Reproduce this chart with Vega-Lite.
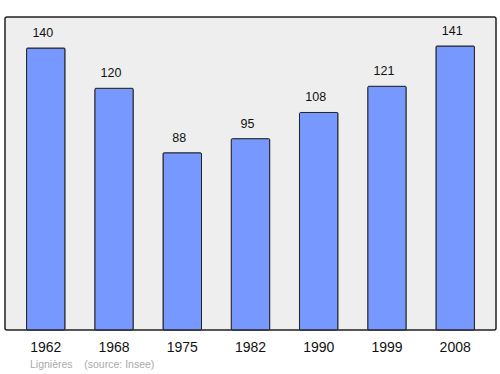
{
  "$schema": "https://vega.github.io/schema/vega-lite/v6.json",
  "width": 491,
  "height": 313,
  "autosize": {"type": "none"},
  "padding": {"left": 5, "top": 17, "right": 4, "bottom": 44},
  "background": "white",
  "config": {
    "font": "Liberation Sans",
    "view": {"fill": "#eeeeee", "stroke": "#222222", "strokeWidth": 1.5, "cornerRadius": 2}
  },
  "title": {
    "text": "Lignières\u00a0\u00a0\u00a0 (source: Insee)",
    "orient": "bottom",
    "anchor": "start",
    "dx": 25,
    "offset": 6,
    "baseline": "top",
    "fontSize": 10.5,
    "fontWeight": "normal",
    "color": "#aaaaaa",
    "font": "Liberation Sans"
  },
  "data": {
    "values": [
      {"year": "1962", "pop": 140},
      {"year": "1968", "pop": 120},
      {"year": "1975", "pop": 88},
      {"year": "1982", "pop": 95},
      {"year": "1990", "pop": 108},
      {"year": "1999", "pop": 121},
      {"year": "2008", "pop": 141}
    ]
  },
  "encoding": {
    "x": {
      "field": "year",
      "type": "nominal",
      "sort": null,
      "scale": {"paddingInner": 0.436, "paddingOuter": 0.316},
      "axis": {
        "title": null,
        "labelAngle": 0,
        "labelFontSize": 14,
        "labelColor": "#111111",
        "labelPadding": 10,
        "domain": false,
        "ticks": false,
        "grid": false
      }
    },
    "y": {
      "field": "pop",
      "type": "quantitative",
      "scale": {"domain": [0, 155.4], "nice": false},
      "axis": null
    }
  },
  "layer": [
    {
      "mark": {"type": "bar", "fill": "#7799ff", "stroke": "#222222", "strokeWidth": 1, "cornerRadius": 1}
    },
    {
      "mark": {"type": "text", "baseline": "bottom", "dy": -8, "dx": -3, "fontSize": 12.5, "color": "#111111"},
      "encoding": {"text": {"field": "pop", "type": "quantitative"}}
    }
  ]
}
